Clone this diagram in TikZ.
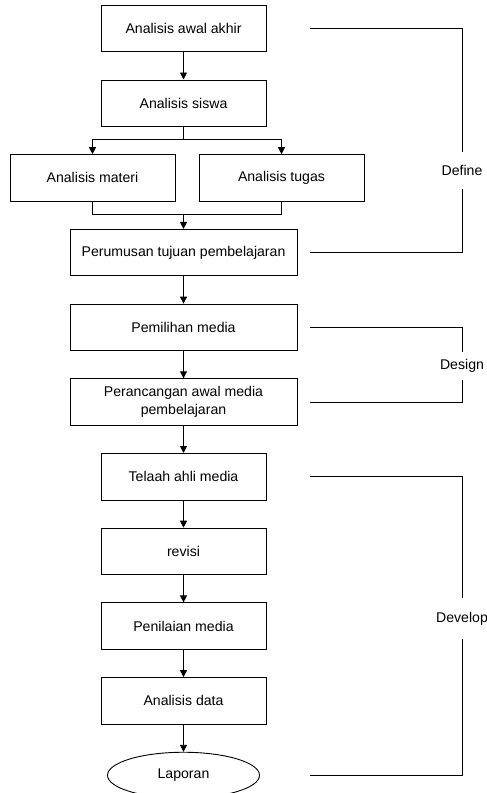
\documentclass[tikz,border=0pt]{standalone}
\usepackage{fontspec}
\setmainfont{Liberation Sans}
\usetikzlibrary{shapes.geometric, arrows.meta, positioning}
\tikzset{
    stepbox/.style={rectangle, minimum width=165pt, minimum height=46.5pt, align=center, draw=black, line width=0.9pt, font=\fontsize{14.1}{18}\selectfont},
    widebox/.style={stepbox, minimum width=227pt},
    endnode/.style={ellipse, minimum width=152pt, minimum height=46pt, align=center, draw=black, line width=0.9pt, font=\fontsize{14.1}{18}\selectfont},
    phase/.style={inner sep=0pt, align=center, font=\fontsize{14.1}{18}\selectfont},
    arrow/.style={line width=0.9pt, -{Triangle[length=7pt, width=7pt]}},
    bracket/.style={line width=0.9pt}
}
\begin{document}
\begin{tikzpicture}[node distance=27.3pt]
    \useasboundingbox (0,0) rectangle (487pt,-793pt);

    \node (awal) [stepbox] at (183.5pt,-28.5pt) {Analisis awal akhir};
    \node (siswa) [stepbox, below=of awal] {Analisis siswa};
    \node (materi) [stepbox, below=of siswa, xshift=-91pt] {Analisis materi};
    \node (tugas) [stepbox, below=of siswa, xshift=98pt] {Analisis tugas};
    \node (tujuan) [widebox, below=of materi, xshift=91pt] {Perumusan tujuan pembelajaran};
    \node (pemilihan) [widebox, below=of tujuan] {Pemilihan media};
    \node (rancang) [widebox, below=of pemilihan] {Perancangan awal media\\pembelajaran};
    \node (telaah) [stepbox, below=of rancang] {Telaah ahli media};
    \node (revisi) [stepbox, below=of telaah] {revisi};
    \node (penilaian) [stepbox, below=of revisi] {Penilaian media};
    \node (analisis) [stepbox, below=of penilaian] {Analisis data};
    \node (laporan) [endnode, below=of analisis] {Laporan};

    \coordinate [below=13pt of siswa.south] (split);
    \coordinate [above=14pt of tujuan.north] (join);
    \coordinate (lstart) at (310pt,0pt);

    \node (define) [phase, minimum height=37pt] at (462pt,-170.5pt) {Define};
    \node (design) [phase, minimum height=28pt] at (462pt,-366pt) {Design};
    \node (develop) [phase, minimum height=41pt] at (462pt,-618.5pt) {Develop};

    \draw [arrow] (awal) -- (siswa);
    \draw [bracket] (siswa) -- (split);
    \draw [arrow] (split) -| (materi.north);
    \draw [arrow] (split) -| (tugas.north);
    \draw [bracket] (materi.south) |- (join) -| (tugas.south);
    \draw [arrow] (join) -- (tujuan);
    \draw [arrow] (tujuan) -- (pemilihan);
    \draw [arrow] (pemilihan) -- (rancang);
    \draw [arrow] (rancang) -- (telaah);
    \draw [arrow] (telaah) -- (revisi);
    \draw [arrow] (revisi) -- (penilaian);
    \draw [arrow] (penilaian) -- (analisis);
    \draw [arrow] (analisis) -- (laporan);

    \draw [bracket] (awal -| lstart) -| (define.north);
    \draw [bracket] (define.south) |- (tujuan -| lstart);
    \draw [bracket] (pemilihan -| lstart) -| (design.north);
    \draw [bracket] (design.south) |- (rancang -| lstart);
    \draw [bracket] (telaah -| lstart) -| (develop.north);
    \draw [bracket] (develop.south) |- (laporan -| lstart);
\end{tikzpicture}
\end{document}
